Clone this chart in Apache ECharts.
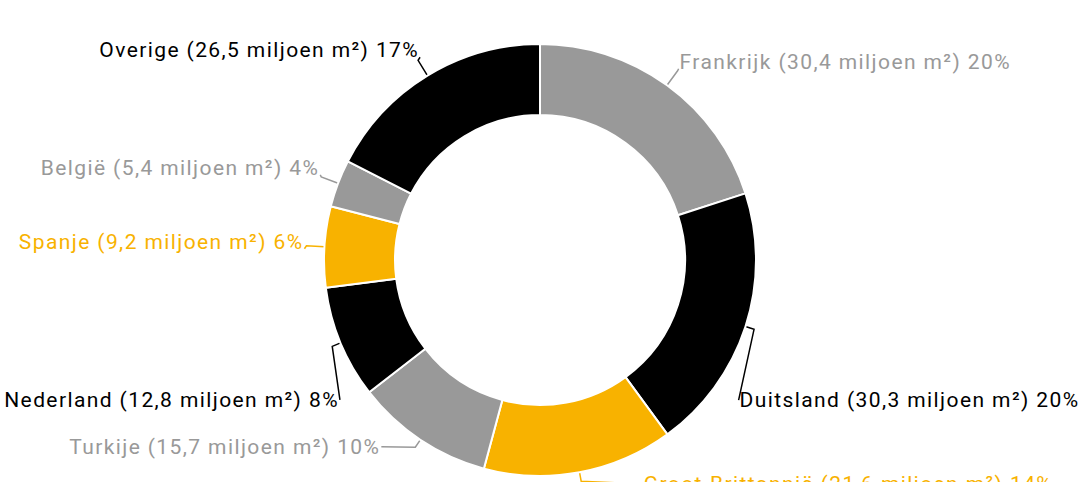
<!DOCTYPE html>
<html><head><meta charset="utf-8">
<script src="https://cdn.jsdelivr.net/npm/echarts@6/dist/echarts.min.js"></script>
<style>html,body{margin:0;padding:0;background:#fff}#c{width:1081px;height:482px}#c text{letter-spacing:1.4px}</style>
</head><body><div id="c"></div>
<script>
const countries = ['Frankrijk','Duitsland','Groot-Brittannië','Turkije','Nederland','Spanje','België','Overige'];
const values = [30.4, 30.3, 21.6, 15.7, 12.8, 9.2, 5.4, 26.5];
const colors = ['#999999','#000000','#F8B200','#999999','#000000','#F8B200','#999999','#000000'];
// label nudges (layout only) relative to ECharts' default outer label position
const labelShiftX = [0, -25, 59, -28, 17, -1, 0, 3];
const labelShiftY = [-9, 68, -6, -8, 50, -4, -9, -10];

const total = values.reduce((a,b)=>a+b,0);
const data = countries.map((n,i)=>({
  name:n, value:values[i],
  itemStyle:{color:colors[i]},
  label:{color:colors[i]},
  labelLine:{lineStyle:{color:colors[i]}}
}));
const CX = 540;
const chart = echarts.init(document.getElementById('c'), null, {renderer:'svg'});
chart.setOption({
  animation:false,
  series:[{
    type:'pie',
    center:[CX,260],
    radius:[145,216],
    startAngle:90,
    clockwise:true,
    avoidLabelOverlap:false,
    itemStyle:{borderColor:'#fff',borderWidth:2},
    label:{
      show:true,
      fontFamily:'Roboto',
      fontSize:21,
      formatter:p=>p.name+' ('+p.value.toFixed(1).replace('.',',')+' miljoen m²) '+Math.round(p.value/total*100)+'%',
      distanceToLabelLine:1,
      overflow:'none'
    },
    labelLine:{show:true,length:18,length2:1,lineStyle:{width:1.5}},
    labelLayout:function(p){
      const i = p.dataIndex, dx = labelShiftX[i], dy = labelShiftY[i];
      const r = p.labelRect, pts = p.labelLinePoints;
      const right = r.x + r.width/2 > CX;
      const moved = Math.abs(dx) > 10 || Math.abs(dy) > 10;
      const ax = (right ? r.x - 1 : r.x + r.width + 1) + dx;
      const ay = r.y + r.height/2 + dy + (moved ? 0 : 7);
      let line;
      if (pts) {
        const p0 = pts[0], p1 = pts[1];
        if (moved) {
          const vx = p1[0]-p0[0], vy = p1[1]-p0[1], len = Math.hypot(vx,vy) || 1;
          const e = [p0[0]+vx/len*9, p0[1]+vy/len*9];
          line = [p0, e, [ax, ay]];
        } else {
          line = [p0, p1, [ax, ay]];
        }
      }
      return {dx:dx, dy:dy, labelLinePoints:line};
    },
    data:data
  }]
});
</script></body></html>
